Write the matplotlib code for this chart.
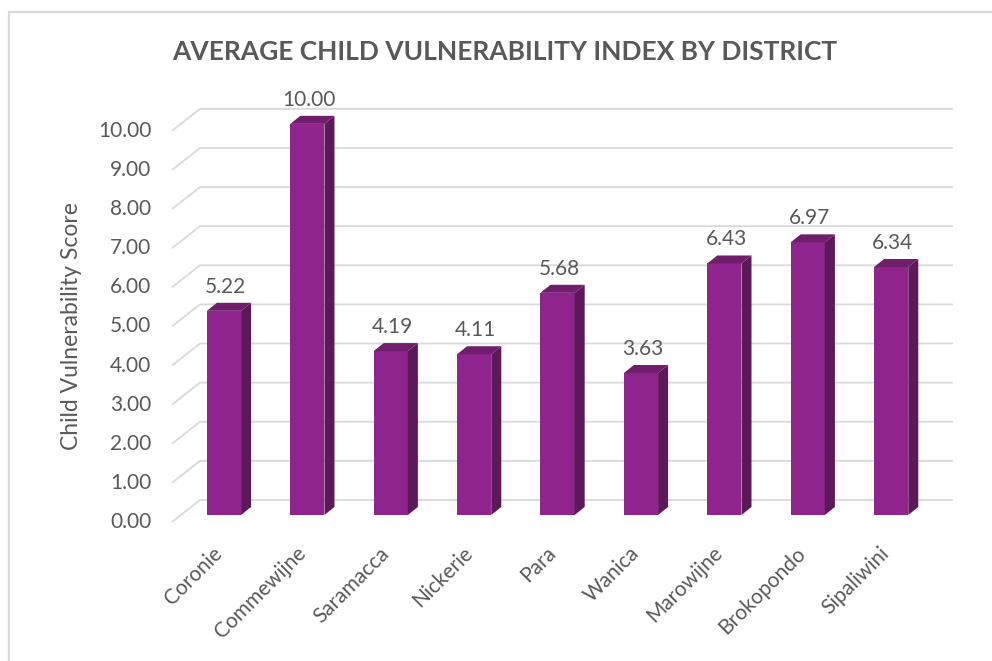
import numpy as np
import matplotlib
matplotlib.use("Agg")
import matplotlib.pyplot as plt
from matplotlib.patches import Polygon, Rectangle

districts = ["Coronie", "Commewijne", "Saramacca", "Nickerie", "Para",
             "Wanica", "Marowijne", "Brokopondo", "Sipaliwini"]
scores = [5.22, 10.00, 4.19, 4.11, 5.68, 3.63, 6.43, 6.97, 6.34]
y_ticks = np.arange(0, 11, 1)

front_col = "#8E248C"
side_col = "#5B1957"
top_col = "#6E1E6B"
grid_col = "#D9D9D9"
text_col = "#595959"

plt.rcParams["font.family"] = ["Lato", "DejaVu Sans"]

fig = plt.figure(figsize=(9.92, 6.61), dpi=100)

# chart area border
fig.patches.append(Rectangle((9 / 992, -0.05), 1.1, 1 - 12 / 661 + 0.05,
                             transform=fig.transFigure, fill=False,
                             edgecolor=grid_col, linewidth=1.6))

ax = fig.add_axes([150 / 992, 131 / 661, 830 / 992, 430 / 661])
ax.set_xlim(-0.887, 9.065)
ax.set_ylim(-0.384, 10.61)
ax.axis("off")

# 3d offsets (in data units)
half_w = 0.205
dx, dy = 0.12, 0.205
wall_dy = 0.384
floor_dy = -0.179
x_front, x_back, x_end = -0.623, -0.288, 8.74

# walls / gridlines
for v in y_ticks:
    ax.plot([x_front, x_back, x_end], [v + floor_dy, v + wall_dy, v + wall_dy],
            color=grid_col, lw=1.3, zorder=1, solid_capstyle="butt")
    ax.text(x_front - 0.25, v + floor_dy, f"{v:.2f}", ha="right", va="center",
            fontsize=15, color=text_col)

# bars drawn as front / side / top faces
for i, v in enumerate(scores):
    l, r = i - half_w, i + half_w
    ax.add_patch(Polygon([(l, 0), (r, 0), (r, v), (l, v)], closed=True,
                         facecolor=front_col, edgecolor="none", zorder=3))
    ax.add_patch(Polygon([(r, 0), (r + dx, dy), (r + dx, v + dy), (r, v)],
                         closed=True, facecolor=side_col, edgecolor="none", zorder=3))
    ax.add_patch(Polygon([(l, v), (l + dx, v + dy), (r + dx, v + dy), (r, v)],
                         closed=True, facecolor=top_col, edgecolor="none", zorder=3))
    ax.text(i + 0.02, v + 0.62, f"{v:.2f}", ha="center", va="center",
            fontsize=15, color=text_col)
    ax.text(i - 0.06, -0.9, districts[i], ha="right", va="center", rotation=45,
            rotation_mode="anchor", fontsize=15, color=text_col)

fig.text(72 / 992, 1 - 326 / 661, "Child Vulnerability Score", rotation=90,
         ha="center", va="center", fontsize=16.5, color=text_col)
fig.text(505 / 992, 1 - 52 / 661, "AVERAGE CHILD VULNERABILITY INDEX BY DISTRICT",
         ha="center", va="center", fontsize=19, color=text_col, fontweight="bold")

fig.savefig("out.png", dpi=100)
